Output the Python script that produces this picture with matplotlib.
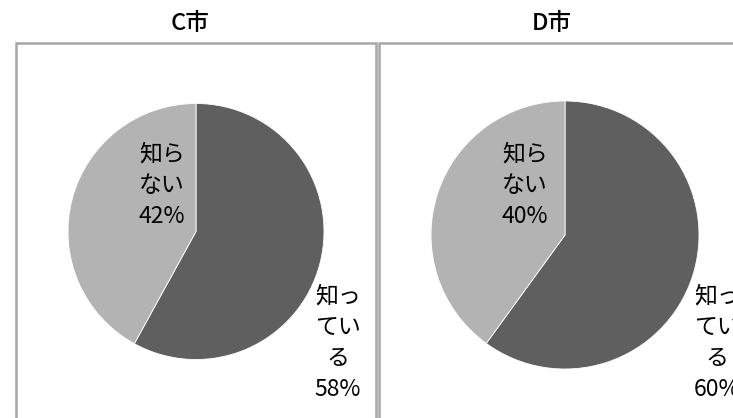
import matplotlib
matplotlib.use("Agg")
import matplotlib.pyplot as plt
from matplotlib.patches import Rectangle

# data
cities = ["C市", "D市"]
labels = ["知って\nいる", "知らない"]
known = [58, 60]
unknown = [42, 40]

W, H = 733, 418
plt.rcParams["font.family"] = ["Noto Sans CJK JP", "DejaVu Sans"]

fig = plt.figure(figsize=(W / 100, H / 100), dpi=100, facecolor="white")
ax = fig.add_axes([0, 0, 1, 1])

dark = "#5f5f5f"
light = "#b3b3b3"
border = "#a6a6a6"

# boxes (pixel coords, y from top)
box_spans = [(16, 376), (378.5, 760)]
centers = [(196, 231.5), (565, 235)]
radii = [128, 134]
title_x = [190, 552]
lbl_unknown_x = [162, 525]
lbl_known_x = [338, 717]

for i, city in enumerate(cities):
    x0, x1 = box_spans[i]
    ax.add_patch(Rectangle((x0, H - 440), x1 - x0, 440 - 43, fill=False,
                           edgecolor=border, linewidth=1.8, zorder=1))
    cx, cy = centers[i]
    ax.pie([known[i], unknown[i]], colors=[dark, light], startangle=90,
           counterclock=False, center=(cx, H - cy), radius=radii[i],
           wedgeprops=dict(edgecolor="white", linewidth=0.6))
    ax.text(title_x[i], H - 24, city, ha="center", va="center", fontsize=17,
            fontweight="medium")
    ax.text(lbl_unknown_x[i], H - 185, "知ら\nない\n%d%%" % unknown[i],
            ha="center", va="center", fontsize=16.5, linespacing=1.45)
    ax.text(lbl_known_x[i], H - 343, "知っ\nてい\nる\n%d%%" % known[i],
            ha="center", va="center", fontsize=16.5, linespacing=1.45)

ax.set_xlim(0, W)
ax.set_ylim(0, H)
ax.set_aspect("auto")
ax.axis("off")

fig.savefig("out.png", dpi=100, facecolor="white")
